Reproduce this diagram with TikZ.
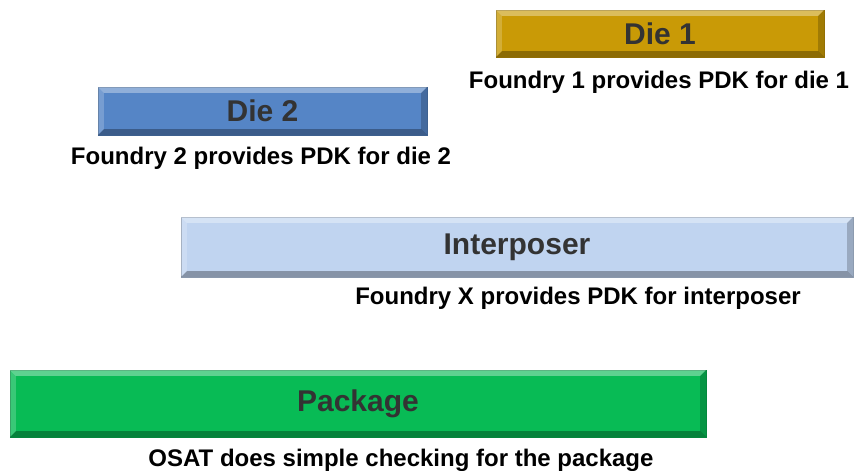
\documentclass[tikz,border=0pt]{standalone}
\usepackage{fontspec}
\setmainfont{Liberation Sans}
\usepackage{tikz}
\usetikzlibrary{positioning, calc}

\definecolor{goldbar}{HTML}{C99A06}
\definecolor{bluebar}{HTML}{5585C6}
\definecolor{palebar}{HTML}{C0D4F0}
\definecolor{greenbar}{HTML}{08BB55}
\definecolor{labelgray}{HTML}{333333}

% bevelled edges round a bar node
\newcommand{\bevel}[1]{%
  \fill[white, opacity=0.35] (#1.north west) -- (#1.north east) -- ($(#1.north east)+(-6,6)$) -- ($(#1.north west)+(6,6)$) -- cycle;
  \fill[white, opacity=0.2] (#1.north west) -- ($(#1.north west)+(6,6)$) -- ($(#1.south west)+(6,-6)$) -- (#1.south west) -- cycle;
  \fill[black, opacity=0.3] (#1.south west) -- (#1.south east) -- ($(#1.south east)+(-6,-6)$) -- ($(#1.south west)+(6,-6)$) -- cycle;
  \fill[black, opacity=0.2] (#1.north east) -- ($(#1.north east)+(-6,6)$) -- ($(#1.south east)+(-6,-6)$) -- (#1.south east) -- cycle;
}

\begin{document}
\begin{tikzpicture}[
        x=1pt, y=-1pt,
        bar/.style={fill=#1, draw=#1!75!black, inner sep=0pt, font=\bfseries\fontsize{30}{34}\selectfont, text=labelgray},
        caption/.style={font=\bfseries\fontsize{24}{28}\selectfont, inner sep=0pt},
    ]
    \useasboundingbox (0,0) rectangle (854,471);

    % Bars:
    \node[bar=goldbar, minimum width=328pt, minimum height=47pt] (die1) at (660,33.5) {Die 1};
    \node[bar=bluebar, minimum width=329pt, minimum height=48pt] (die2) at (262.5,111) {Die 2};
    \node[bar=palebar, minimum width=672pt, minimum height=60pt] (inter) at (517,247) {Interposer};
    \node[bar=greenbar, minimum width=696pt, minimum height=67pt] (pkg) at (358,403.5) {Package};

    \bevel{die1}
    \bevel{die2}
    \bevel{inter}
    \bevel{pkg}

    % Captions under each bar:
    \node[caption] (cap1) at (659,82) {Foundry 1 provides PDK for die 1};
    \node[caption] (cap2) at (261,158) {Foundry 2 provides PDK for die 2};
    \node[caption] (capx) at (578,298) {Foundry X provides PDK for interposer};
    \node[caption] (capp) at (401,460) {OSAT does simple checking for the package};
\end{tikzpicture}
\end{document}
